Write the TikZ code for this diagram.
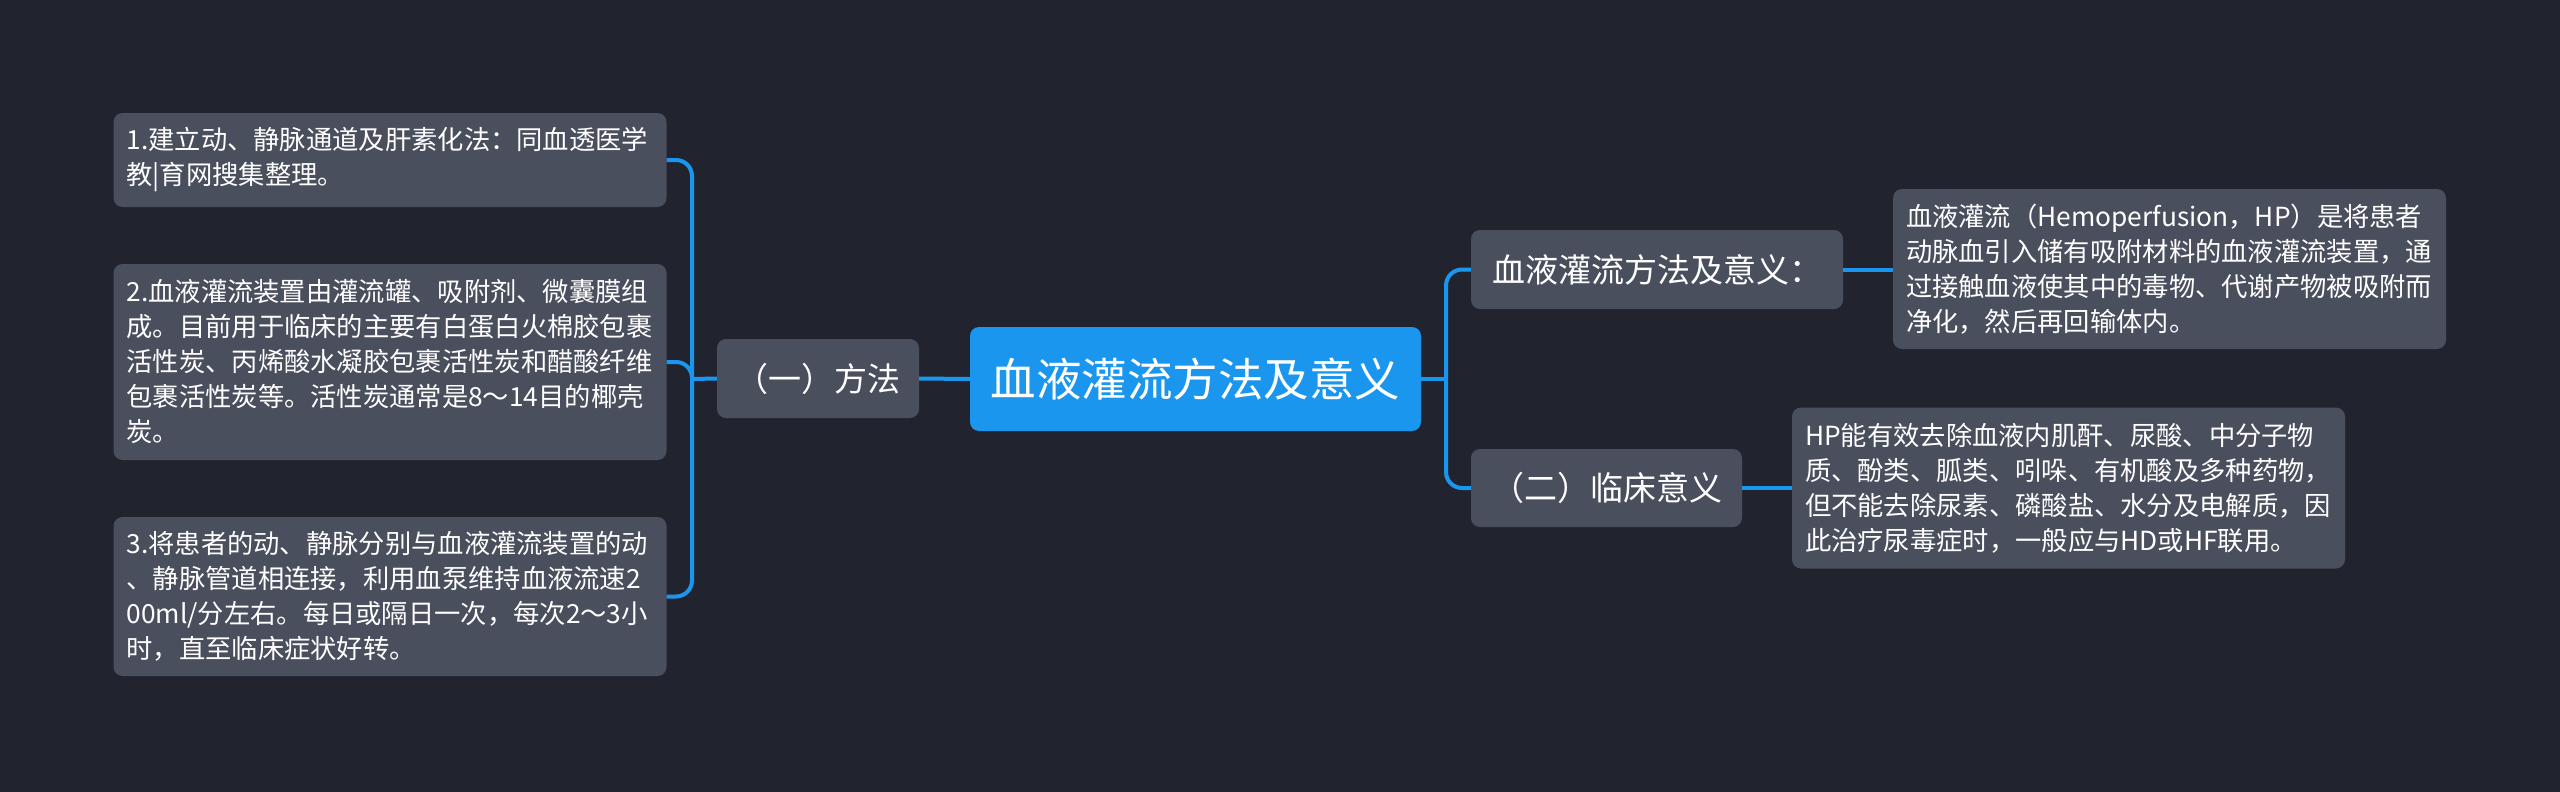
\documentclass[tikz,border=0pt]{standalone}
\usepackage{fontspec}
\setmainfont{Noto Sans CJK SC}
\definecolor{bgc}{HTML}{21242F}
\definecolor{boxc}{HTML}{4A4F5E}
\definecolor{bluec}{HTML}{1B96EE}
\hyphenpenalty=10000
\exhyphenpenalty=10000
\begin{document}
\begin{tikzpicture}[x=1pt,y=-1pt,
  box/.style={fill=boxc, rounded corners=9, text=white, inner sep=0pt},
  leaf/.style={box, font=\fontsize{26.3}{35}\selectfont, text width=527, align=left, inner xsep=13, minimum width=553},
  branch/.style={box, font=\fontsize{33}{38}\selectfont, align=center},
  root/.style={fill=bluec, rounded corners=9, text=white, inner sep=0pt, font=\fontsize{45.5}{50}\selectfont, align=center},
  conn/.style={draw=bluec, line width=4pt},
  rconn/.style={conn, rounded corners=16}]
\fill[bgc] (0,0) rectangle (2560,792);
\useasboundingbox (0,0) rectangle (2560,792);

% root
\node[root, minimum width=451, minimum height=104] (c) at (1195.5,379) {血液灌流方法及意义};

% left side
\node[branch, minimum width=202, minimum height=79] (m) at (818,378.5) {（一）方法};
\node[leaf, minimum height=94] (l1) at (390,160) {1.建立动、静脉通道及肝素化法：同血透医学\\教|育网搜集整理。};
\node[leaf, minimum height=196] (l2) at (390,362) {2.血液灌流装置由灌流罐、吸附剂、微囊膜组\\成。目前用于临床的主要有白蛋白火棉胶包裹\\活性炭、丙烯酸水凝胶包裹活性炭和醋酸纤维\\包裹活性炭等。活性炭通常是8～14目的椰壳\\炭。};
\node[leaf, minimum height=159] (l3) at (390,596.5) {3.将患者的动、静脉分别与血液灌流装置的动\\、静脉管道相连接，利用血泵维持血液流速2\\00ml/分左右。每日或隔日一次，每次2～3小\\时，直至临床症状好转。};

% right side
\node[branch, minimum width=372, minimum height=79] (b1) at (1657,269.5) {血液灌流方法及意义：};
\node[branch, minimum width=271, minimum height=78] (b2) at (1606.5,488) {（二）临床意义};
\node[leaf, minimum height=160] (r1) at (2169.5,269) {血液灌流（Hemoperfusion，HP）是将患者\\动脉血引入储有吸附材料的血液灌流装置，通\\过接触血液使其中的毒物、代谢产物被吸附而\\净化，然后再回输体内。};
\node[leaf, minimum height=161] (r2) at (2068.5,488) {HP能有效去除血液内肌酐、尿酸、中分子物\\质、酚类、胍类、吲哚、有机酸及多种药物，\\但不能去除尿素、磷酸盐、水分及电解质，因\\此治疗尿毒症时，一般应与HD或HF联用。};

% junctions
\coordinate (jl) at (692,379);
\coordinate (jr) at (1446,379);

% connectors
\draw[conn] (c.west) -- (m.east);
\draw[conn] (m.west) -- (jl);
\draw[rconn] (l1.east) -| (jl);
\draw[rconn] (l2.east) -| (jl);
\draw[rconn] (l3.east) -| (jl);
\draw[conn] (c.east) -- (jr);
\draw[rconn] (jr) |- (b1.west);
\draw[rconn] (jr) |- (b2.west);
\draw[conn] (b1.east) -- (r1.west |- b1.east);
\draw[conn] (b2.east) -- (r2.west |- b2.east);
\end{tikzpicture}
\end{document}
